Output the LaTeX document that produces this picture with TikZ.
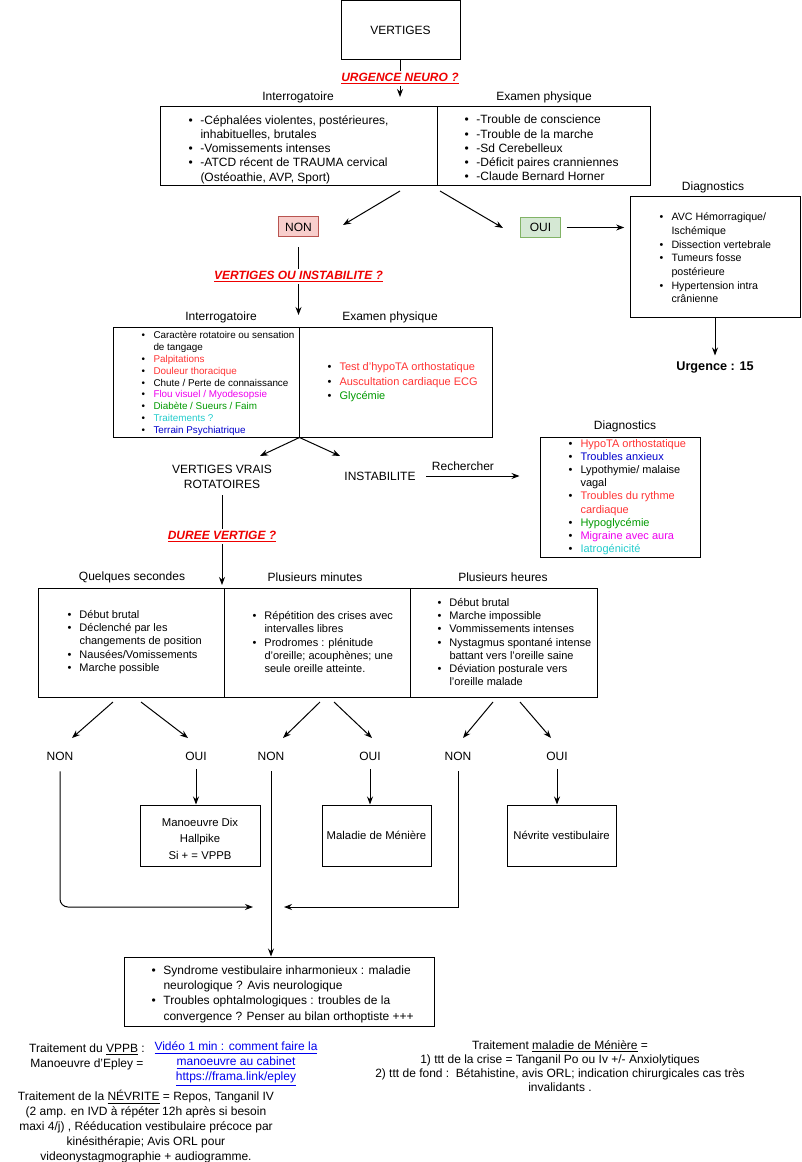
\documentclass[tikz,border=0pt]{standalone}
\usepackage{fontspec}
\setmainfont{Liberation Sans}
\usetikzlibrary{arrows.meta,fit,calc}
\definecolor{crouge}{HTML}{FF3333}
\definecolor{cquest}{HTML}{EE0000}
\definecolor{cvert}{HTML}{009900}
\definecolor{cbleu}{HTML}{0000CC}
\definecolor{ccyan}{HTML}{22CCCC}
\definecolor{cmagenta}{HTML}{EE00EE}
\definecolor{clien}{HTML}{0000EE}
\definecolor{nonfond}{HTML}{F8CECC}
\definecolor{nonbord}{HTML}{B85450}
\definecolor{ouifond}{HTML}{D5E8D4}
\definecolor{ouibord}{HTML}{82B366}
\newcommand{\bul}{\makebox[9pt][l]{\textbullet}}
\newcommand{\ind}{\hspace*{9pt}}
\newcommand{\qst}[1]{\textbf{\textit{\underline{#1}}}}
\begin{document}
\begin{tikzpicture}
        [
           x=0.75pt, y=-0.75pt, line width=0.75pt,
           every node/.style={inner sep=0pt, font=\fontsize{9}{10.7}\selectfont},
           cell/.style={draw, fit={#1}},
           arr/.style={-{Stealth[length=6pt,width=4.5pt]}},
           quest/.style={fill=white, text=cquest, inner sep=1.5pt},
           list/.style={align=left, anchor=west},
           nonbox/.style={draw=nonbord, fill=nonfond, minimum width=30pt, minimum height=15pt},
           ouibox/.style={draw=ouibord, fill=ouifond, minimum width=30.5pt, minimum height=15pt}
        ]
        \tikzstyle{petit}=[font=\fontsize{7.4}{8.9}\selectfont]
        \tikzstyle{moyen}=[font=\fontsize{8.25}{9.9}\selectfont]
        \tikzstyle{boite}=[align=center, font=\fontsize{8.5}{12.4}\selectfont]
        \useasboundingbox (0,0) rectangle (801,1162);

        \node[cell={(341,0.5) (460,60)}] (vertiges) {};
        \node at (vertiges) {VERTIGES};
        \coordinate (q1) at (400,97);
        \draw[arr] (vertiges.south -| q1) -- node[quest]{\qst{URGENCE NEURO ?}} (q1);

        \node at (298,97) {Interrogatoire};
        \node at (544,97) {Examen physique};
        \node[cell={(160,107) (437,186)}] (int1) {};
        \node[cell={(437,107) (650,186)}] (exa1) {};
        \node[list] (lint1) at (188,149.5) {\bul -Céphalées violentes, postérieures,\\ \ind inhabituelles, brutales\\ \bul -Vomissements intenses\\ \bul -ATCD récent de TRAUMA cervical\\ \ind (Ostéoathie, AVP, Sport)};
        \node[list] (lexa1) at (464,148) {\bul -Trouble de conscience\\ \bul -Trouble de la marche\\ \bul -Sd Cerebelleux\\ \bul -Déficit paires cranniennes\\ \bul -Claude Bernard Horner};

        \node[nonbox] (non1) at (298.5,227) {NON};
        \node[ouibox] (oui1) at (540.5,227.5) {OUI};
        \coordinate (a1) at (400,191);
        \coordinate (a2) at (343,225);
        \coordinate (a3) at (440,191);
        \coordinate (a4) at (503,228);
        \draw[arr] (a1) -- (a2);
        \draw[arr] (a3) -- (a4);

        \node at (713,187) {Diagnostics};
        \node[cell={(630,197) (800,317)}] (diag1) {};
        \node[list, font=\fontsize{8}{10.25}\selectfont] (ldiag1) at (659,258) {\bul AVC Hémorragique/\\ \ind Ischémique\\ \bul Dissection vertebrale\\ \bul Tumeurs fosse\\ \ind postérieure\\ \bul Hypertension intra\\ \ind crânienne};
        \draw[arr, shorten <=4pt, shorten >=4pt] (oui1.east) -- (oui1.east -| diag1.west);
        \node[font=\fontsize{9.5}{11}\selectfont\bfseries] (urg) at (715,367) {Urgence : 15};
        \draw[arr, shorten >=4pt] (diag1.south -| urg) -- (urg.north);

        \coordinate (q2) at (298.5,315);
        \draw[arr, shorten <=7.5pt] (non1.south) -- node[quest]{\qst{VERTIGES OU INSTABILITE ?}} (q2);

        \node at (221,317) {Interrogatoire};
        \node at (390,317) {Examen physique};
        \node[cell={(113,327) (299,437)}] (int2) {};
        \node[cell={(299,327) (492,437)}] (exa2) {};
        \node[list, petit] (lint2) at (141,383.5) {\bul Caractère rotatoire ou sensation\\ \ind de tangage\\ \bul \textcolor{crouge}{Palpitations}\\ \bul \textcolor{crouge}{Douleur thoracique}\\ \bul Chute / Perte de connaissance\\ \bul \textcolor{cmagenta}{Flou visuel / Myodesopsie}\\ \bul \textcolor{cvert}{Diabète / Sueurs / Faim}\\ \bul \textcolor{ccyan}{Traitements ?}\\ \bul \textcolor{cbleu}{Terrain Psychiatrique}};
        \node[list, font=\fontsize{8.25}{10.9}\selectfont] (lexa2) at (327,382.5) {\bul \textcolor{crouge}{Test d'hypoTA orthostatique}\\ \bul \textcolor{crouge}{Auscultation cardiaque ECG}\\ \bul \textcolor{cvert}{Glycémie}};

        \coordinate (e1) at (260,456);
        \coordinate (e2) at (340,456);
        \draw[arr] (int2.south east) -- (e1);
        \draw[arr] (int2.south east) -- (e2);
        \node[align=center, font=\fontsize{9}{11.25}\selectfont] (vvr) at (222,476.5) {VERTIGES VRAIS\\ROTATOIRES};
        \node (inst) at (380,476) {INSTABILITE};

        \node at (625,426) {Diagnostics};
        \node[cell={(540,437) (700,557)}] (diag2) {};
        \node[list, moyen] (ldiag2) at (568,497) {\bul \textcolor{crouge}{HypoTA orthostatique}\\ \bul \textcolor{cbleu}{Troubles anxieux}\\ \bul Lypothymie/ malaise\\ \ind vagal\\ \bul \textcolor{crouge}{Troubles du rythme}\\ \ind \textcolor{crouge}{cardiaque}\\ \bul \textcolor{cvert}{Hypoglycémie}\\ \bul \textcolor{cmagenta}{Migraine avec aura}\\ \bul \textcolor{ccyan}{Iatrogénicité}};
        \draw[arr, shorten <=7.5pt, shorten >=15pt] (inst.east) -- node[pos=0.38, above=4pt]{Rechercher} (inst.east -| diag2.west);

        \coordinate (q3) at (222,585);
        \draw[arr, shorten <=5pt] (vvr.south -| q3) -- node[quest]{\qst{DUREE VERTIGE ?}} (q3);

        \node at (132,577) {Quelques secondes};
        \node at (315,577) {Plusieurs minutes};
        \node at (503,577) {Plusieurs heures};
        \node[cell={(38,588) (224,697)}] (sec) {};
        \node[cell={(224,588) (410,697)}] (min) {};
        \node[cell={(410,588) (597,697)}] (heu) {};
        \node[list, moyen] (lsec) at (67,642) {\bul Début brutal\\ \bul Déclenché par les\\ \ind changements de position\\ \bul Nausées/Vomissements\\ \bul Marche possible};
        \node[list, moyen] (lmin) at (252,642) {\bul Répétition des crises avec\\ \ind intervalles libres\\ \bul Prodromes : plénitude\\ \ind d'oreille; acouphènes; une\\ \ind seule oreille atteinte.};
        \node[list, moyen] (lheu) at (437,642) {\bul Début brutal\\ \bul Marche impossible\\ \bul Vommissements intenses\\ \bul Nystagmus spontané intense\\ \ind battant vers l'oreille saine\\ \bul Déviation posturale vers\\ \ind l'oreille malade};

        \node (non2) at (60,756) {NON};
        \node (oui2) at (196,756) {OUI};
        \node (non3) at (271,756) {NON};
        \node (oui3) at (370,756) {OUI};
        \node (non4) at (458,756) {NON};
        \node (oui4) at (557,756) {OUI};
        \coordinate (b1) at (113,702);
        \coordinate (b2) at (72,738);
        \coordinate (b3) at (141,702);
        \coordinate (b4) at (188,738);
        \coordinate (b5) at (320,702);
        \coordinate (b6) at (283,738);
        \coordinate (b7) at (334,702);
        \coordinate (b8) at (372,738);
        \coordinate (b9) at (493,702);
        \coordinate (b10) at (463,738);
        \coordinate (b11) at (520,702);
        \coordinate (b12) at (551,738);
        \draw[arr] (b1) -- (b2);
        \draw[arr] (b3) -- (b4);
        \draw[arr] (b5) -- (b6);
        \draw[arr] (b7) -- (b8);
        \draw[arr] (b9) -- (b10);
        \draw[arr] (b11) -- (b12);

        \node[cell={(140,805) (260,866)}] (dix) {};
        \node[cell={(322,805) (431,866)}] (meniere) {};
        \node[cell={(507,805) (616,866)}] (nevrite) {};
        \node[boite] at ($(dix)+(0,3)$) {Manoeuvre Dix\\Hallpike\\Si + = VPPB};
        \node[boite] at (meniere) {Maladie de Ménière};
        \node[boite] at (nevrite) {Névrite vestibulaire};
        \draw[arr, shorten <=6pt] (oui2.south) -- (oui2.south |- dix.north);
        \draw[arr, shorten <=6pt] (oui3.south) -- (oui3.south |- meniere.north);
        \draw[arr, shorten <=6pt] (oui4.south) -- (oui4.south |- nevrite.north);

        \node[cell={(124,957) (434,1026)}] (fin) {};
        \node[list, font=\fontsize{9}{11.5}\selectfont] (lfin) at (151,994) {\bul Syndrome vestibulaire inharmonieux : maladie\\ \ind neurologique ? Avis neurologique\\ \bul Troubles ophtalmologiques : troubles de la\\ \ind convergence ? Penser au bilan orthoptiste +++};
        \coordinate (j1) at (253,907);
        \coordinate (j2) at (284,907);
        \draw[arr, rounded corners=6pt, shorten <=8pt] (non2.south) |- (j1);
        \draw[arr, shorten <=8pt] (non3.south) -- (non3.south |- fin.north);
        \draw[arr, shorten <=8pt] (non4.south) |- (j2);

        \node[align=center, font=\fontsize{9}{11.25}\selectfont] (vppb) at (87,1057) {Traitement du \underline{VPPB} :\\Manoeuvre d'Epley =};
        \node[align=center, text=clien, font=\fontsize{9}{11.25}\selectfont] (video) at (236,1064) {\underline{Vidéo 1 min : comment faire la}\\\underline{manoeuvre au cabinet}\\\underline{https://frama.link/epley}};
        \node[align=center, font=\fontsize{9}{11.25}\selectfont] (trnev) at (146,1127) {Traitement de la \underline{NÉVRITE} = Repos, Tanganil IV\\(2 amp. en IVD à répéter 12h après si besoin\\maxi 4/j) , Rééducation vestibulaire précoce par\\kinésithérapie; Avis ORL pour\\videonystagmographie + audiogramme.};
        \node[align=center, font=\fontsize{9}{10.5}\selectfont] (trmen) at (560,1066) {Traitement \underline{maladie de Ménière} =\\1) ttt de la crise = Tanganil Po ou Iv +/- Anxiolytiques\\2) ttt de fond :\ \ Bétahistine, avis ORL; indication chirurgicales cas très\\invalidants .};
    \end{tikzpicture}
\end{document}
